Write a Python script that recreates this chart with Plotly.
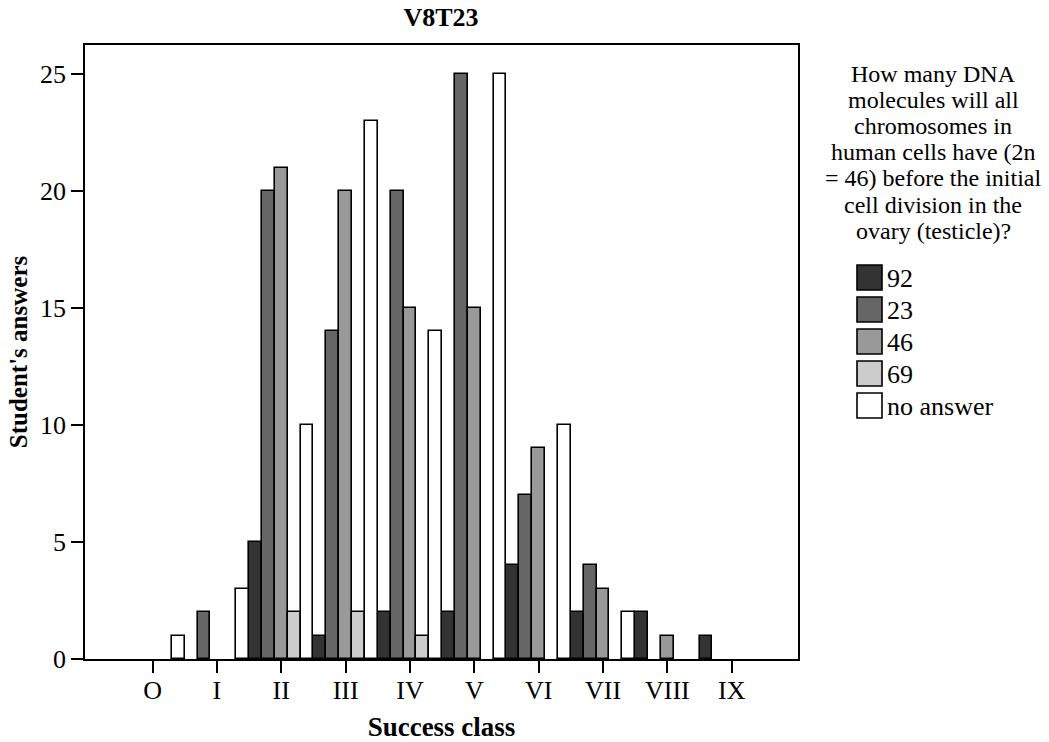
import plotly.graph_objects as go

categories = ["O", "I", "II", "III", "IV", "V", "VI", "VII", "VIII", "IX"]
series_names = ["92", "23", "46", "69", "no answer"]
v92 = [0, 0, 5, 1, 2, 2, 4, 2, 2, 1]
v23 = [0, 2, 20, 14, 20, 25, 7, 4, 0, 0]
v46 = [0, 0, 21, 20, 15, 15, 9, 3, 1, 0]
v69 = [0, 0, 2, 2, 1, 0, 0, 0, 0, 0]
vna = [1, 3, 10, 23, 14, 25, 10, 2, 0, 0]
series_values = [v92, v23, v46, v69, vna]
colors = ["#333333", "#666666", "#999999", "#cccccc", "#ffffff"]
yticks = [0, 5, 10, 15, 20, 25]
legend_title_lines = ["How many DNA", "molecules will all", "chromosomes in",
                      "human cells have (2n", "= 46) before the initial",
                      "cell division in the", "ovary (testicle)?"]

FONT = "Liberation Serif, serif"

def serif(t):
    return '<span style="font-family:Liberation Serif,serif">' + t + '</span>'

fig = go.Figure()
for name, vals, col in zip(series_names, series_values, colors):
    fig.add_trace(go.Bar(
        x=categories, y=[v if v else None for v in vals], name=name,
        marker=dict(color=col, line=dict(color="black", width=1.6)),
        showlegend=False,
    ))

# manual legend (large square swatches like the reference)
plot_l, plot_r, plot_t, plot_b = 85, 798, 45, 659
pw, ph = plot_r - plot_l, plot_b - plot_t
def px(x):
    return (x - plot_l) / pw
def py(y):
    return (plot_b - y) / ph

shapes = []
annotations = []
for i, line in enumerate(legend_title_lines):
    annotations.append(dict(
        x=px(933), y=py(74 + 26.1 * i), xref="paper", yref="paper",
        xanchor="center", yanchor="middle",
        text=serif(line), showarrow=False,
        font=dict(family=FONT, size=24, color="black"),
    ))
for i, (name, col) in enumerate(zip(series_names, colors)):
    top = 265 + i * 32
    shapes.append(dict(
        type="rect", xref="paper", yref="paper",
        x0=px(857), x1=px(882), y0=py(top + 25), y1=py(top),
        fillcolor=col, line=dict(color="black", width=1.6),
    ))
    annotations.append(dict(
        x=px(885), y=py(top + 13), xref="paper", yref="paper",
        xanchor="left", yanchor="middle", text=serif(name), showarrow=False,
        font=dict(family=FONT, size=26, color="black"),
    ))

fig.update_layout(
    width=1049, height=742,
    margin=dict(l=plot_l, r=1049 - plot_r, t=plot_t, b=742 - plot_b, autoexpand=False),
    paper_bgcolor="white", plot_bgcolor="white",
    font=dict(family=FONT, size=26, color="black"),
    barmode="group", bargap=0, bargroupgap=0,
    title=dict(text="<b>V8T23</b>", x=px(441), xref="paper", xanchor="center",
               y=1 - 17 / 742, yref="container", yanchor="middle",
               font=dict(family=FONT, size=26, color="black")),
    shapes=shapes, annotations=annotations,
)
fig.update_xaxes(
    type="category", range=[-1.05, 10.03], automargin=False,
    showline=True, linecolor="black", linewidth=1.5, mirror=True,
    ticks="outside", ticklen=12, tickwidth=2, tickcolor="black",
    ticklabelstandoff=-5,
    showgrid=False, zeroline=False,
    tickfont=dict(family=FONT, size=26, color="black"),
    title=dict(text="<b>Success class</b>", standoff=16,
               font=dict(family=FONT, size=27, color="black")),
)
fig.update_yaxes(
    range=[0, 26.24], tickvals=yticks, automargin=False,
    showline=True, linecolor="black", linewidth=1.5, mirror=True,
    ticks="outside", ticklen=12, tickwidth=2, tickcolor="black",
    showgrid=False, zeroline=False,
    tickfont=dict(family=FONT, size=26, color="black"),
    title=dict(text="<b>Student's answers</b>", standoff=5,
               font=dict(family=FONT, size=25, color="black")),
)

fig.write_html("out.html", config={"displayModeBar": False},
               post_script="document.body.style.margin='0';document.body.style.overflow='hidden';")
